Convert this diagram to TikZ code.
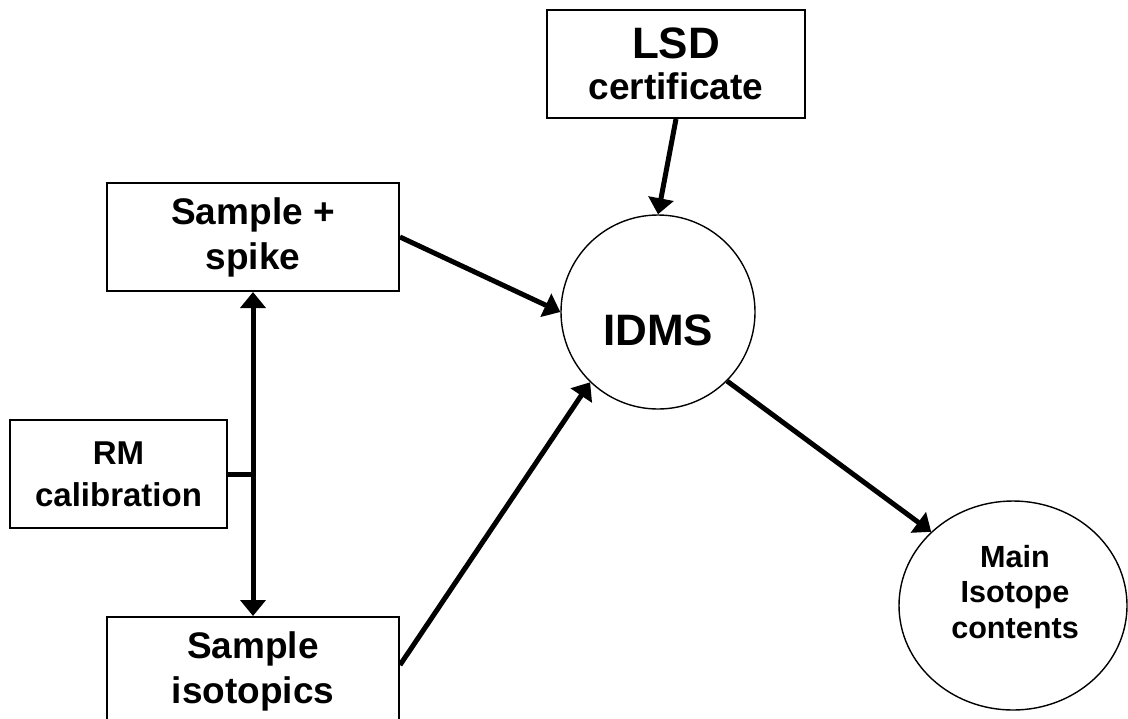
\documentclass[tikz,border=0pt]{standalone}
\usepackage{fontspec}
\setmainfont{Liberation Sans}
\usetikzlibrary{shapes, calc, positioning, arrows.meta}

\begin{document}
\begin{tikzpicture}[
    x=0.5pt, y=-0.5pt,
    semithick,
    ]
    \tikzstyle{box}=[ draw = black, line width = 1pt, fill = white, inner sep = 0pt, align = center, minimum height = 54pt ]
    \tikzstyle{blob}=[ draw = black, line width = 0.7pt, fill = white, inner sep = 0pt ]
    \tikzstyle{link}=[ line width = 2.5pt, -{Triangle[length=8pt,width=12.5pt]} ]
    \useasboundingbox (0,0) rectangle (1128,718);
    \clip (0,0) rectangle (1128,718);
    \node[box, minimum width=129pt, font=\bfseries\fontsize{18.5}{20.5}\selectfont] (LSD) at (676,64) {{\fontsize{22}{20.5}\selectfont LSD}\\certificate};
    \node[box, minimum width=146pt, font=\bfseries\fontsize{18.5}{22.5}\selectfont] (spike) at (253,237) {Sample +\\spike};
    \node[box, minimum width=146pt, font=\bfseries\fontsize{18.5}{22.5}\selectfont] (iso) [below=162pt of spike] {Sample\\isotopics};
    \node[box, minimum width=108.5pt, font=\bfseries\fontsize{16.5}{21}\selectfont] (RM) at (118.5,474) {RM\\calibration};
    \node[blob, circle, minimum size=97pt] (IDMS) at (658,312) {};
    \node[font=\bfseries\fontsize{22}{26}\selectfont] (IDMStxt) at ([yshift=-9pt]IDMS.center) {IDMS};
    \node[blob, ellipse, minimum width=114pt, minimum height=104.5pt] (main) at (1013,605.5) {};
    \node[align=center, font=\bfseries\fontsize{15.3}{17.75}\selectfont] (maintxt) at ([xshift=1pt,yshift=6.75pt]main.center) {Main\\Isotope\\contents};
    \draw[link] (LSD.south) -- (IDMS.north);
    \draw[link] (spike.east) -- (IDMS.west);
    \draw[link] ([yshift=3pt]iso.east) -- (IDMS.226);
    \draw[link] (IDMS.-45) -- (main.138);
    \draw[link, {Triangle[length=8pt,width=12.5pt]}-{Triangle[length=8pt,width=12.5pt]}] (spike.south) -- (iso.north);
    \draw[line width=2.5pt] (RM.east) -- (RM.east -| spike.south);
  \end{tikzpicture}
\end{document}
